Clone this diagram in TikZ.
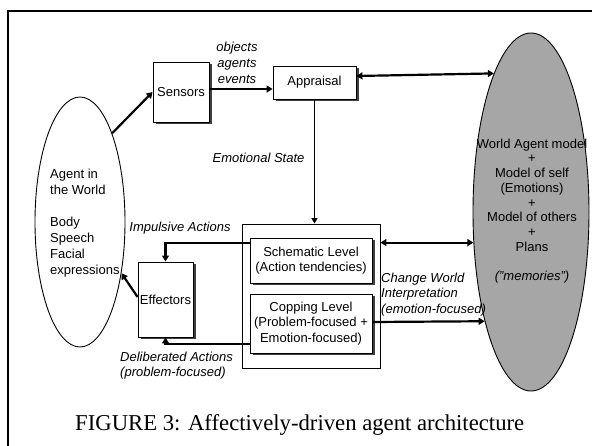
\documentclass[tikz,border=0pt]{standalone}
\usepackage{fontspec}
\setmainfont{Liberation Sans}
\newfontfamily\capfont{Liberation Serif}
\usetikzlibrary{arrows.meta,shapes.geometric,shadows,calc}
\newcommand\diafont{\fontsize{13}{15.5}\selectfont}
\definecolor{memgray}{RGB}{166,166,166}
\begin{document}
\begin{tikzpicture}[x=1pt,y=-1pt,
  box/.style={draw, line width=0.9pt, fill=white, inner sep=0pt, align=center, font=\diafont,
    drop shadow={shadow xshift=2.5pt, shadow yshift=-2.5pt, fill=black!75, opacity=1}},
  lbl/.style={inner sep=0pt, font=\diafont, align=center},
  itl/.style={inner sep=0pt, font=\diafont\itshape, align=center},
  tip/.tip={Triangle[length=6pt,width=7pt]},
  arr/.style={line width=2.2pt, -tip},
  dblarr/.style={line width=2.2pt, tip-tip},
  thinarr/.style={line width=1.4pt, -{Triangle[length=5.5pt,width=6pt]}}
]
\useasboundingbox (0,0) rectangle (592,446);
% outer frame
\draw[line width=2.6pt] (8,470) -- (8,11) -- (610,11);

% ellipses
\node[ellipse, draw, line width=0.9pt, minimum width=90pt, minimum height=250pt, inner sep=0pt] (world) at (80,222) {};
\node[ellipse, draw, line width=0.9pt, fill=memgray, minimum width=116pt, minimum height=358pt, inner sep=0pt] (memory) at (531,212) {};

% boxes
\node[box, minimum width=56pt, minimum height=60pt] (sensors) at (181,92) {Sensors};
\node[box, minimum width=83pt, minimum height=33pt] (appraisal) at (314.5,82.5) {Appraisal};
\node[draw, line width=0.9pt, minimum width=138pt, minimum height=144pt, inner sep=0pt] (container) at (311,296) {};
\node[box, minimum width=122pt, minimum height=45pt] (schematic) at (311,260.5) {Schematic Level\\(Action tendencies)};
\node[box, minimum width=122pt, minimum height=59pt] (copping) at (311,323.5) {Copping Level\\(Problem-focused +\\Emotion-focused)};
\node[box, minimum width=55pt, minimum height=75pt] (effectors) at (165.5,299.5) {Effectors};

% texts
\node[lbl, anchor=west, align=left, font=\fontsize{13}{16}\selectfont] (worldtxt) at (50,223.5) {Agent in\\the World\\[16pt]Body\\Speech\\Facial\\expressions};
\node[lbl, font=\fontsize{13}{14.7}\selectfont] (memtxt) at (532,211) {World Agent model\\+\\Model of self\\(Emotions)\\+\\Model of others\\+\\Plans\\[14.7pt]\textit{("memories")}};
\node[itl, font=\fontsize{13}{16}\selectfont\itshape] (oae) at (237,63) {objects\\agents\\events};
\node[itl] (emo) at (258.5,158) {Emotional State};
\node[itl] (imp) at (180,228) {Impulsive Actions};
\node[itl, align=left, anchor=west] (delib) at (120,365.5) {Deliberated Actions\\(problem-focused)};
\node[itl, align=left, anchor=west] (chg) at (381,294.5) {Change World\\Interpretation\\(emotion-focused)};
\node[inner sep=0pt, font=\capfont\fontsize{22.7}{26}\selectfont, anchor=base west] (cap) at (75,431) {FIGURE 3: Affectively-driven agent architecture};

% connectors
\draw[arr] (world.north east) -- (sensors.west);
\draw[arr] ([yshift=3pt]sensors.east) -- ([yshift=-6.5pt]appraisal.west);
\draw[dblarr] ([yshift=6.5pt]appraisal.east) -- (memory.105.5);
\draw[thinarr] (appraisal.south) -- (appraisal.south |- container.north);
\draw[dblarr] (container.east |- memory.208.5) -- (memory.208.5);
\draw[arr] ([yshift=17.5pt]schematic.west) -| (effectors.north);
\draw[arr] ([yshift=-20.5pt]copping.west) -| (effectors.south);
\draw[arr] ([yshift=2.5pt]effectors.west) -- (world.-51.2);
\draw[arr] ([yshift=1.5pt]copping.east) -- (memory.247.4);
\end{tikzpicture}
\end{document}
